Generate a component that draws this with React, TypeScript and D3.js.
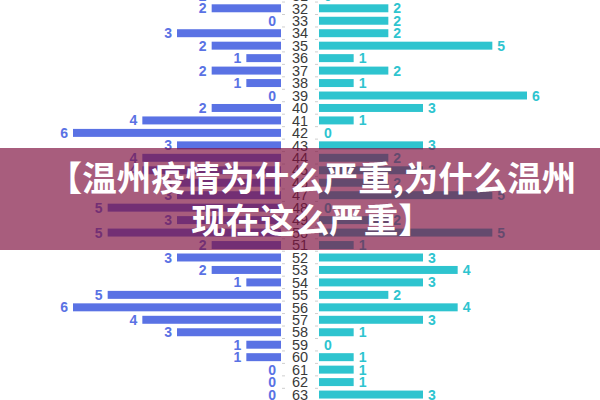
import React from 'react';
import * as d3 from 'd3';

// 年龄（中间轴）
const ages: string[] = [
  '31', '32', '33', '34', '35', '36', '37', '38', '39', '40', '41',
  '42', '43', '44', '45', '46', '47', '48', '49', '50', '51', '52',
  '53', '54', '55', '56', '57', '58', '59', '60', '61', '62', '63'
];

// 左侧（蓝色）
const leftValues: number[] = [
  2, 2, 0, 3, 2, 1, 2, 1, 0, 2, 4,
  6, 3, 4, 4, 3, 3, 5, 3, 5, 2, 3,
  2, 1, 5, 6, 4, 3, 1, 1, 0, 0, 0
];

// 右侧（青色）
const rightValues: number[] = [
  0, 2, 2, 2, 5, 1, 2, 1, 6, 3, 1,
  0, 3, 2, 3, 2, 5, 0, 2, 5, 1, 3,
  4, 3, 2, 4, 3, 1, 0, 1, 1, 1, 3
];

const titleLines: string[] = ['【温州疫情为什么严重,为什么温州', '现在这么严重】'];

const WIDTH = 600;
const HEIGHT = 400;
const LEFT_COLOR = '#5a72e4';
const RIGHT_COLOR = '#2ec4cf';

export default function App() {
  const leftEdge = 281; // 左侧柱子的右端
  const rightEdge = 319; // 右侧柱子的左端
  const maxValue = 6;
  const barSpan = 208;

  const yScale = d3
    .scaleBand<string>()
    .domain(ages)
    .range([-10.4, -10.4 + ages.length * 12.46])
    .paddingInner(0.36)
    .paddingOuter(0.18);

  const xLeft = d3.scaleLinear().domain([0, maxValue]).range([leftEdge, leftEdge - barSpan]);
  const xRight = d3.scaleLinear().domain([0, maxValue]).range([rightEdge, rightEdge + barSpan]);

  const bw = yScale.bandwidth();
  const step = yScale.step();

  return (
    <svg
      width={WIDTH}
      height={HEIGHT}
      viewBox={`0 0 ${WIDTH} ${HEIGHT}`}
      style={{ position: 'absolute', left: 0, top: 0, background: '#fff' }}
    >
      {/* 刻度 */}
      <g stroke="#cfcfcf" strokeWidth={1}>
        {ages.map((a, i) => {
          const y = (yScale(a) || 0) - (step - bw) / 2;
          return (
            <g key={i}>
              <line x1={leftEdge + 1} x2={leftEdge + 4} y1={y} y2={y} />
              <line x1={rightEdge - 4} x2={rightEdge - 1} y1={y} y2={y} />
            </g>
          );
        })}
      </g>

      {/* 左侧柱子 */}
      <g>
        {leftValues.map((v, i) => {
          const y = yScale(ages[i]) || 0;
          return (
            <g key={i}>
              <rect x={xLeft(v)} y={y} width={leftEdge - xLeft(v)} height={bw} fill={LEFT_COLOR} />
              <text
                x={xLeft(v) - 5}
                y={y + bw / 2}
                dy="0.36em"
                textAnchor="end"
                fontFamily="Liberation Sans, Arial, sans-serif"
                fontWeight="bold"
                fontSize={14}
                fill={LEFT_COLOR}
              >
                {v}
              </text>
            </g>
          );
        })}
      </g>

      {/* 右侧柱子 */}
      <g>
        {rightValues.map((v, i) => {
          const y = yScale(ages[i]) || 0;
          return (
            <g key={i}>
              <rect x={rightEdge} y={y} width={xRight(v) - rightEdge} height={bw} fill={RIGHT_COLOR} />
              <text
                x={xRight(v) + 5}
                y={y + bw / 2}
                dy="0.36em"
                textAnchor="start"
                fontFamily="Liberation Sans, Arial, sans-serif"
                fontWeight="bold"
                fontSize={14}
                fill={RIGHT_COLOR}
              >
                {v}
              </text>
            </g>
          );
        })}
      </g>

      {/* 年龄 */}
      <g>
        {ages.map((a, i) => (
          <text
            key={i}
            x={300}
            y={(yScale(a) || 0) + bw / 2}
            dy="0.36em"
            textAnchor="middle"
            fontFamily="Liberation Sans, Arial, sans-serif"
            fontSize={14.5}
            fill="#3a3a3a"
          >
            {a}
          </text>
        ))}
      </g>

      {/* 标题遮罩 */}
      <rect x={0} y={148} width={WIDTH} height={102} fill="#7f1040" opacity={0.68} />
      {titleLines.map((t, i) => (
        <text
          key={i}
          x={312}
          y={191 + i * 42}
          textAnchor="middle"
          fontFamily="Noto Sans CJK SC"
          fontWeight="bold"
          fontSize={34.5}
          fill="#fff"
        >
          {t}
        </text>
      ))}
    </svg>
  );
}
